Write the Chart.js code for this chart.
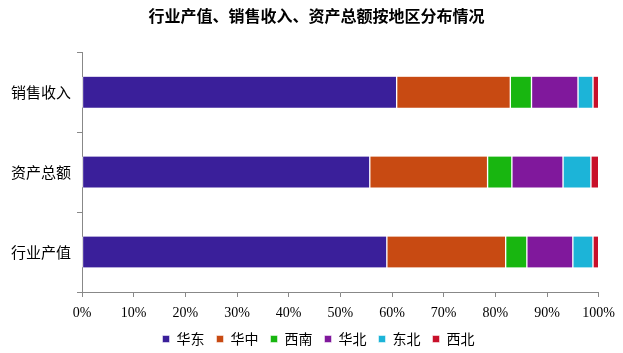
<!DOCTYPE html>
<html>
<head>
<meta charset="utf-8">
<script src="https://cdn.jsdelivr.net/npm/chart.js@4/dist/chart.umd.min.js"></script>
<style>
  html, body { margin: 0; padding: 0; background: #fff; }
  #wrap { width: 623px; height: 353px; }
</style>
</head>
<body>
<div id="wrap"><canvas id="c1" width="623" height="353"></canvas></div>
<script>
var categories = ["销售收入", "资产总额", "行业产值"];
var huadong  = [60.9, 55.7, 59.0];
var huazhong = [22.0, 22.8, 23.0];
var xinan    = [4.1, 4.7, 4.1];
var huabei   = [9.0, 9.9, 8.9];
var dongbei  = [2.9, 5.4, 3.9];
var xibei    = [1.1, 1.5, 1.1];
var xTicks = [0, 10, 20, 30, 40, 50, 60, 70, 80, 90, 100];

var fontFam = "'Liberation Serif', 'Noto Sans CJK SC', serif";
Chart.defaults.font.family = fontFam;
Chart.defaults.color = "#000";

function ds(label, data, color) {
  return {
    label: label,
    data: data,
    backgroundColor: color,
    borderColor: "#fff",
    borderWidth: { left: 1, right: 1, top: 0, bottom: 0 },
    borderSkipped: false,
    barThickness: 31
  };
}

// nudge title and legend to the right, like the original
var shiftBlocks = {
  id: 'shiftBlocks',
  afterLayout: function(chart) {
    if (chart.titleBlock) { chart.titleBlock.left += 14; chart.titleBlock.right += 14; }
    if (chart.legend) { chart.legend.left += 16; chart.legend.right += 16; }
  }
};

var c1 = document.getElementById("c1").getContext('2d');
var myC1 = new Chart(c1, {
  type: 'bar',
  data: {
    labels: categories,
    datasets: [
      ds('华东', huadong, "rgb(58,31,154)"),
      ds('华中', huazhong, "rgb(200,74,18)"),
      ds('西南', xinan, "rgb(24,182,16)"),
      ds('华北', huabei, "rgb(128,24,156)"),
      ds('东北', dongbei, "rgb(28,180,216)"),
      ds('西北', xibei, "rgb(200,16,42)")
    ]
  },
  plugins: [shiftBlocks],
  options: {
    responsive: false,
    animation: false,
    indexAxis: 'y',
    layout: { padding: { left: 6, right: 24, top: 0, bottom: -3 } },
    plugins: {
      title: {
        display: true,
        text: '行业产值、销售收入、资产总额按地区分布情况',
        font: { size: 16, weight: 'bold', family: "'Noto Sans CJK SC', sans-serif" },
        color: "#000",
        padding: { top: 6, bottom: 27 }
      },
      legend: {
        position: 'bottom',
        labels: {
          boxWidth: 7,
          boxHeight: 7,
          padding: 12,
          font: { size: 14, family: "'Noto Sans CJK SC', sans-serif" },
          color: "#000"
        }
      },
      tooltip: { enabled: false }
    },
    scales: {
      x: {
        stacked: true,
        min: 0,
        max: 100,
        afterBuildTicks: function(s) { s.ticks = xTicks.map(function(v) { return { value: v }; }); },
        afterFit: function(s) { s.height = 28; },
        ticks: {
          callback: function(v) { return v + '%'; },
          font: { size: 14 },
          color: "#000",
          padding: 8,
          maxRotation: 0
        },
        grid: { drawOnChartArea: false, drawTicks: true, tickLength: 5, color: "#888" },
        border: { color: "#888" }
      },
      y: {
        stacked: true,
        afterFit: function(s) { s.width = 76; },
        ticks: {
          font: { size: 15, family: "'Noto Sans CJK SC', sans-serif" },
          color: "#000",
          padding: 6
        },
        grid: { offset: true, drawOnChartArea: false, drawTicks: true, tickLength: 5, color: "#888" },
        border: { color: "#888" }
      }
    }
  }
});
</script>
</body>
</html>
